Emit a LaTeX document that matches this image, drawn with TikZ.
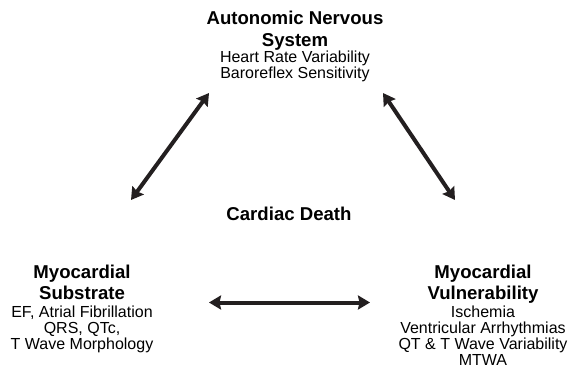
\documentclass[tikz,border=0pt]{standalone}
\usepackage{fontspec}
\setmainfont{Liberation Sans}
\usepackage{xcolor}
\usetikzlibrary{arrows.meta}

\definecolor{ink}{HTML}{231F20}

\tikzset{
	head/.style={font=\fontsize{18.6}{21.6}\selectfont\bfseries, align=center, inner sep=0pt, anchor=north},
	items/.style={font=\fontsize{16}{16}\selectfont, align=center, inner sep=0pt, anchor=north},
	link/.style={draw=ink, line width=4pt,
		{Stealth[inset=1.5pt,length=12pt,width=14pt]}-{Stealth[inset=1.5pt,length=12pt,width=14pt]}}
}

\begin{document}
\begin{tikzpicture}[x=1pt,y=-1pt]

\useasboundingbox (0,0) rectangle (568,370);

% the three factors and the outcome
\node[head] (ans) at (295,11) {Autonomic Nervous\\System};
\node[items] (ansx) at (295,51) {Heart Rate Variability\\Baroreflex Sensitivity};

\node[head] (death) at (289,206.5) {Cardiac Death};

\node[head] (sub) at (82,264.5) {Myocardial\\Substrate};
\node[items] (subx) at (82,306) {EF, Atrial Fibrillation\\QRS, QTc,\\T Wave Morphology};

\node[head] (vul) at (483,264.5) {Myocardial\\Vulnerability};
\node[items] (vulx) at (483,306) {Ischemia\\Ventricular Arrhythmias\\QT \& T Wave Variability\\MTWA};

% arrow ends
\coordinate (a1) at (131,200);
\coordinate (a2) at (209,93);
\coordinate (b1) at (383,93);
\coordinate (b2) at (455,200);
\coordinate (c1) at (209,302.5);
\coordinate (c2) at (370,302.5);

\draw[link] (a1)--(a2);
\draw[link] (b1)--(b2);
\draw[link] (c1)--(c2);

\end{tikzpicture}
\end{document}
